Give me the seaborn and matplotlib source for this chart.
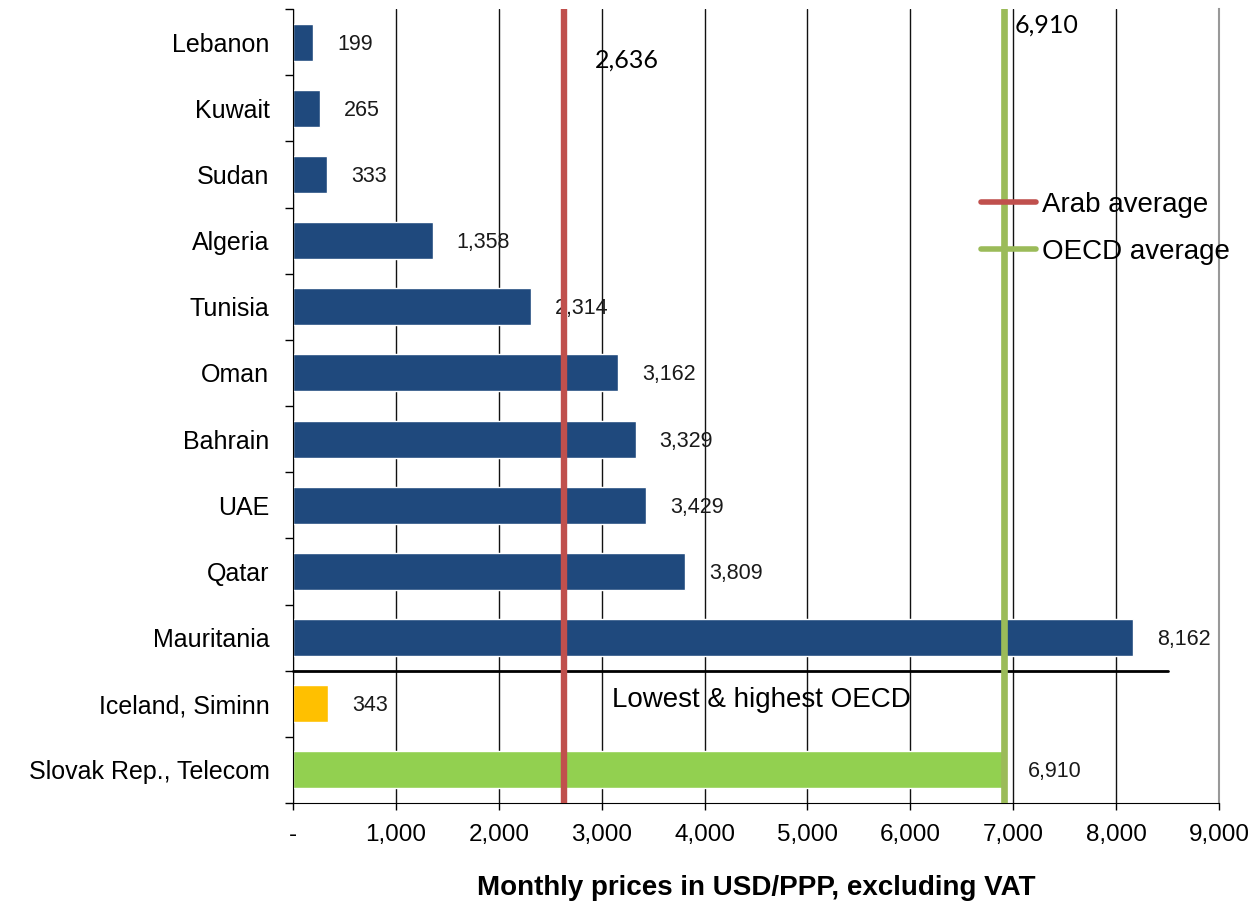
import matplotlib
matplotlib.use('Agg')
import matplotlib.pyplot as plt
import seaborn as sns
import pandas as pd
from matplotlib.lines import Line2D

# 数据
countries = ['Lebanon', 'Kuwait', 'Sudan', 'Algeria', 'Tunisia', 'Oman', 'Bahrain',
             'UAE', 'Qatar', 'Mauritania', 'Iceland, Siminn', 'Slovak Rep., Telecom']
prices = [199, 265, 333, 1358, 2314, 3162, 3329, 3429, 3809, 8162, 343, 6910]
bar_colors = ['#1F497D'] * 10 + ['#FFC000', '#92D050']
arab_avg = 2636
oecd_avg = 6910
x_ticks = [0, 1000, 2000, 3000, 4000, 5000, 6000, 7000, 8000, 9000]
x_tick_labels = ['-', '1,000', '2,000', '3,000', '4,000', '5,000', '6,000', '7,000', '8,000', '9,000']

sns.set_style('white')
plt.rcParams['font.family'] = ['Liberation Sans', 'DejaVu Sans']
plt.rcParams['text.color'] = 'black'
plt.rcParams['axes.labelcolor'] = 'black'
plt.rcParams['xtick.labelcolor'] = 'black'
plt.rcParams['ytick.labelcolor'] = 'black'

df = pd.DataFrame({'country': countries, 'price': prices})

fig = plt.figure(figsize=(12.56, 9.06), dpi=100)
ax = fig.add_axes([0.2333, 0.1137, 0.7372, 0.8763])

sns.barplot(data=df, x='price', y='country', hue='country', palette=bar_colors,
            legend=False, width=0.56, saturation=1, ax=ax, zorder=2)

# 网格与坐标轴
ax.set_xlim(0, 9000)
ax.set_ylim(len(countries) - 0.5, -0.5)
ax.set_xticks(x_ticks)
ax.set_xticklabels(x_tick_labels, fontsize=17.5)
ax.xaxis.grid(True, color='#111111', linewidth=1.0)
ax.yaxis.grid(False)
ax.set_axisbelow(True)

ax.set_yticks([i - 0.5 for i in range(len(countries) + 1)])
ax.set_yticklabels([])
ax.set_yticks(range(len(countries)), minor=True)
ax.set_yticklabels(countries, minor=True, fontsize=18)
ax.tick_params(axis='y', which='major', direction='out', length=6, width=1, color='black', left=True)
ax.tick_params(axis='y', which='minor', length=0, pad=17)
ax.tick_params(axis='x', direction='out', length=5, width=1, color='black', bottom=True, pad=10)

ax.spines['top'].set_visible(False)
ax.spines['left'].set_color('black')
ax.spines['bottom'].set_color('black')
ax.spines['right'].set_color('#999999')
ax.spines['right'].set_linewidth(1.5)

ax.set_ylabel('')
ax.set_xlabel('Monthly prices in USD/PPP, excluding VAT', fontsize=20, fontweight='bold', labelpad=21)

# 数值标签
for i, v in enumerate(prices):
    ax.annotate(f'{v:,}', xy=(v, i), xytext=(24, -2), textcoords='offset pixels',
                va='center', ha='left', fontsize=15.5, color='#1a1a1a')

# 平均线
ax.axvline(arab_avg, color='#C0504D', linewidth=4.6, zorder=4)
ax.axvline(oecd_avg, color='#9BBB59', linewidth=4.8, zorder=4)
ax.text(arab_avg + 300, 0.27, f'{arab_avg:,}', fontsize=18, family=['Lato', 'DejaVu Sans'],
        va='center', ha='left')
ax.text(oecd_avg + 100, -0.26, f'{oecd_avg:,}', fontsize=18, family=['Lato', 'DejaVu Sans'],
        va='center', ha='left')

# 分隔线
ax.plot([0, 8500], [9.5, 9.5], color='black', linewidth=2, zorder=3, clip_on=False)
ax.text(3100, 9.95, 'Lowest & highest OECD', fontsize=20, va='center', ha='left')

handles = [Line2D([0], [0], color='#C0504D', lw=4, solid_capstyle='round'),
           Line2D([0], [0], color='#9BBB59', lw=4, solid_capstyle='round')]
ax.legend(handles, ['Arab average', 'OECD average'], loc='upper left',
          bbox_to_anchor=(0.7275, 0.787), frameon=False, fontsize=20,
          handlelength=2.0, handletextpad=0.2, labelspacing=0.76, borderpad=0)

fig.savefig('out.png', dpi=100, facecolor='white')
